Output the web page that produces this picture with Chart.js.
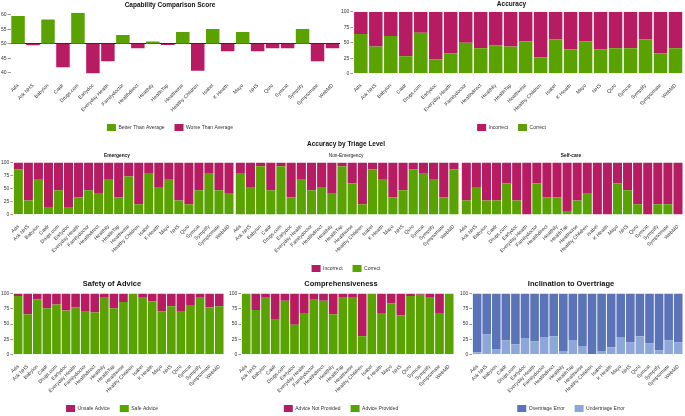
<!DOCTYPE html>
<html>
<head>
<meta charset="utf-8">
<script src="https://cdn.jsdelivr.net/npm/chart.js@4"></script>
<style>
  body { margin: 0; background: #fff; width: 685px; height: 416px; position: relative; overflow: hidden; }
  canvas { position: absolute; }
</style>
</head>
<body>
<canvas id="cap" width="342" height="141" style="left:0;top:0"></canvas>
<canvas id="acc" width="345" height="141" style="left:340px;top:0"></canvas>
<canvas id="emg" width="236" height="144" style="left:0;top:138px"></canvas>
<canvas id="nonemg" width="228" height="144" style="left:233px;top:138px"></canvas>
<canvas id="self" width="226" height="144" style="left:459px;top:138px"></canvas>
<canvas id="safe" width="226" height="146" style="left:0;top:276px"></canvas>
<canvas id="comp" width="228" height="146" style="left:228px;top:276px"></canvas>
<canvas id="over" width="226" height="146" style="left:459px;top:276px"></canvas>
<script>
const checkers = ['Ada', 'Ask NHS', 'Babylon', 'Caidr', 'Drugs.com', 'Earlydoc', 'Everyday Health',
  'Familydoctor', 'Healthdirect', 'Healthily', 'HealthTap', 'Healthwise', 'Healthy Children',
  'Isabel', 'K Health', 'Mayo', 'NHS', 'Quro', 'Symcat', 'Symptify', 'Symptomate', 'WebMD'];

const capabilityScore = [59.6, 49.5, 58.4, 41.9, 60.7, 39.7, 44.0, 53.0, 48.5, 50.8, 49.6,
  54.1, 40.7, 55.1, 47.4, 54.1, 47.4, 48.5, 48.5, 55.1, 44.0, 48.5];
const capabilityAverage = 50;

const accuracyCorrect   = [64, 44, 61, 28, 66, 23, 33, 50, 41, 46, 44, 52, 26, 55, 39, 52, 39, 41, 41, 55, 33, 41];
const accuracyIncorrect = [36, 56, 39, 72, 34, 77, 67, 50, 59, 54, 56, 48, 74, 45, 61, 48, 61, 59, 59, 45, 67, 59];

const emergencyCorrect   = [87, 27, 67, 13, 47, 13, 33, 47, 40, 67, 33, 73, 20, 80, 53, 67, 27, 20, 47, 80, 47, 40];
const emergencyIncorrect = [13, 73, 33, 87, 53, 87, 67, 53, 60, 33, 67, 27, 80, 20, 47, 33, 73, 80, 53, 20, 53, 60];

const nonEmergencyCorrect   = [80, 53, 93, 47, 93, 33, 67, 47, 53, 40, 93, 60, 20, 87, 67, 33, 47, 87, 80, 67, 33, 87];
const nonEmergencyIncorrect = [20, 47, 7, 53, 7, 67, 33, 53, 47, 60, 7, 40, 80, 13, 33, 67, 53, 13, 20, 33, 67, 13];

const selfCareCorrect   = [27, 53, 27, 27, 60, 27, 0, 60, 33, 33, 7, 27, 40, 0, 0, 60, 47, 20, 0, 20, 20, 0];
const selfCareIncorrect = [73, 47, 73, 73, 40, 73, 100, 40, 67, 67, 93, 73, 60, 100, 100, 40, 53, 80, 100, 80, 80, 100];

const safeAdvice   = [96, 66, 90, 76, 82, 72, 77, 70, 69, 93, 76, 86, 100, 93, 87, 71, 79, 70, 81, 93, 77, 79];
const unsafeAdvice = [4, 34, 10, 24, 18, 28, 23, 30, 31, 7, 24, 14, 0, 7, 13, 29, 21, 30, 19, 7, 23, 21];

const adviceProvided    = [100, 73, 93, 57, 88, 49, 68, 91, 88, 66, 93, 93, 30, 100, 68, 84, 64, 96, 98, 93, 68, 100];
const adviceNotProvided = [0, 27, 7, 43, 12, 51, 32, 9, 12, 34, 7, 7, 70, 0, 32, 16, 36, 4, 2, 7, 32, 0];

const undertriageError = [4, 33, 9, 23, 17, 27, 22, 29, 30, 6, 24, 14, 0, 6, 12, 29, 20, 30, 18, 7, 23, 20];
const overtriageError  = [96, 67, 91, 77, 83, 73, 78, 71, 70, 94, 76, 86, 100, 94, 88, 71, 80, 70, 82, 93, 77, 80];

const percentTicks = [0, 25, 50, 75, 100];

const GREEN = '#5aa200';
const MAGENTA = '#b71c62';
const DARK_BLUE = '#5b73b7';
const LIGHT_BLUE = '#8fa6d9';

Chart.defaults.font.family = '"Liberation Sans", Arial, Helvetica, sans-serif';
Chart.defaults.font.size = 5;
Chart.defaults.color = '#333';
Chart.defaults.animation = false;

function xAxis() {
  return {
    stacked: true,
    grid: { display: false },
    border: { display: false },
    ticks: { autoSkip: false, minRotation: 45, maxRotation: 45, padding: 1, font: { size: 5 } }
  };
}

function legendOpts(show, padding) {
  return {
    display: show,
    position: 'bottom',
    reverse: true,
    labels: { boxWidth: 9, boxHeight: 7, padding: padding, font: { size: 5 } }
  };
}

// stacked percentage chart, bottom series first so legend is reversed
function stackChart(id, title, lowLabel, lowData, lowColor, highLabel, highData, highColor, extra) {
  extra = extra || {};
  return new Chart(document.getElementById(id), {
    type: 'bar',
    data: {
      labels: checkers,
      datasets: [
        { label: lowLabel, data: lowData, backgroundColor: lowColor },
        { label: highLabel, data: highData, backgroundColor: highColor }
      ]
    },
    options: {
      responsive: false,
      barPercentage: 0.9,
      categoryPercentage: 1,
      layout: { padding: { left: 0, right: 2, top: 0, bottom: 0 } },
      plugins: {
        title: extra.title || { display: true, text: title, font: { size: 7.5, weight: 'bold' }, color: '#111', padding: { top: 3, bottom: 5.5 } },
        subtitle: extra.subtitle || { display: false },
        legend: extra.legend || legendOpts(true, 10),
        tooltip: { enabled: false }
      },
      scales: {
        x: xAxis(),
        y: {
          display: extra.showY !== false,
          stacked: true,
          min: 0,
          max: 100,
          afterBuildTicks: axis => { axis.ticks = percentTicks.map(v => ({ value: v })); },
          grid: { drawOnChartArea: false, tickLength: 3, tickColor: '#999' },
          border: { display: false },
          ticks: { padding: 1, font: { size: 5 } }
        }
      }
    }
  });
}

// capability comparison: floating bars from the average line
new Chart(document.getElementById('cap'), {
  type: 'bar',
  data: {
    labels: checkers,
    datasets: [
      { label: 'Better Than Average', backgroundColor: GREEN,
        data: capabilityScore.map(v => v >= capabilityAverage ? [capabilityAverage, v] : null) },
      { label: 'Worse Than Average', backgroundColor: MAGENTA,
        data: capabilityScore.map(v => v < capabilityAverage ? [capabilityAverage, v] : null) }
    ]
  },
  options: {
    responsive: false,
    barPercentage: 0.9,
    categoryPercentage: 1,
    layout: { padding: { left: 0, right: 2, top: 0, bottom: 0 } },
    plugins: {
      title: { display: true, text: 'Capability Comparison Score', font: { size: 6.5, weight: 'bold' }, color: '#111', padding: { top: 1, bottom: 4 } },
      legend: { display: true, position: 'bottom',
        labels: { boxWidth: 9, boxHeight: 7, padding: 10, font: { size: 5 } } },
      tooltip: { enabled: false }
    },
    scales: {
      x: xAxis(),
      y: {
        min: Math.min(...capabilityScore),
        max: Math.max(...capabilityScore),
        ticks: { stepSize: 5, includeBounds: false, padding: 1, font: { size: 5 } },
        grid: {
          color: c => (c.tick && c.tick.value === capabilityAverage) ? '#222' : 'rgba(0,0,0,0)',
          tickColor: '#999', tickLength: 3
        },
        border: { display: false }
      }
    }
  }
});

stackChart('acc', 'Accuracy', 'Correct', accuracyCorrect, GREEN, 'Incorrect', accuracyIncorrect, MAGENTA, {
  title: { display: true, text: 'Accuracy', font: { size: 6.5, weight: 'bold' }, color: '#111', padding: { top: 0, bottom: 4 } }
});

const mid = stackChart('nonemg', '', 'Correct', nonEmergencyCorrect, GREEN, 'Incorrect', nonEmergencyIncorrect, MAGENTA, {
  showY: false,
  title: { display: true, text: 'Accuracy by Triage Level', font: { size: 6.5 }, color: '#111', padding: { top: 2, bottom: 5 } },
  subtitle: { display: true, text: 'Non-Emergency', font: { size: 4.8 }, color: '#111', padding: { top: 0, bottom: 4 } }
});

const emg = stackChart('emg', '', 'Correct', emergencyCorrect, GREEN, 'Incorrect', emergencyIncorrect, MAGENTA, {
  title: { display: true, text: 'Emergency', font: { size: 4.8 }, color: '#111', padding: { top: 0, bottom: 4 } },
  legend: { display: false }
});

const self = stackChart('self', '', 'Correct', selfCareCorrect, GREEN, 'Incorrect', selfCareIncorrect, MAGENTA, {
  showY: false,
  title: { display: true, text: 'Self-care', font: { size: 4.8 }, color: '#111', padding: { top: 0, bottom: 4 } },
  legend: { display: false }
});

// line up the side panels' plot areas with the middle panel
function alignPlot(ref, ch) {
  const top = ref.chartArea.top - ch.chartArea.top;
  const bottom = ch.chartArea.bottom - ref.chartArea.bottom;
  ch.options.layout.padding = { left: 0, right: 2, top: top, bottom: bottom };
  ch.update('none');
}
alignPlot(mid, emg);
alignPlot(mid, self);

stackChart('safe', 'Safety of Advice', 'Safe Advice', safeAdvice, GREEN, 'Unsafe Advice', unsafeAdvice, MAGENTA);
stackChart('comp', 'Comprehensiveness', 'Advice Provided', adviceProvided, GREEN, 'Advice Not Provided', adviceNotProvided, MAGENTA);
stackChart('over', 'Inclination to Overtriage', 'Undertriage Error', undertriageError, LIGHT_BLUE, 'Overtriage Error', overtriageError, DARK_BLUE);
</script>
</body>
</html>
